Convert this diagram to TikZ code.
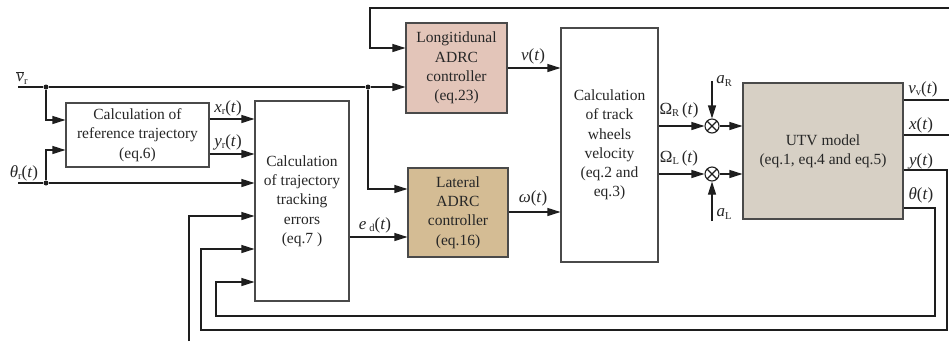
\documentclass[tikz,border=0pt]{standalone}
\usepackage{fontspec}
\setmainfont{Liberation Serif}
\usetikzlibrary{arrows.meta,calc}
\definecolor{linec}{HTML}{1E1E1E}
\definecolor{boxc}{HTML}{4A4A4A}
\definecolor{txtc}{HTML}{262626}
\definecolor{longc}{HTML}{E3C5B9}
\definecolor{latc}{HTML}{D4BC94}
\definecolor{utvc}{HTML}{D7D0C5}
\newcommand{\lsb}[1]{\raisebox{-0.35ex}{\fontsize{10.5}{10.5}\selectfont #1}}
\newcommand{\bfnt}{\fontsize{15.5}{19.3}\selectfont}
\newcommand{\lfnt}{\fontsize{17}{19}\selectfont}
\begin{document}
\begin{tikzpicture}[x=1pt,y=-1pt,
  box/.style={draw=boxc, line width=1.1pt, align=center, inner sep=0pt, font=\bfnt, text=txtc},
  ln/.style={line width=1.1pt, draw=linec},
  arr/.style={ln, -{Triangle[length=13pt,width=8pt]}},
  lbl/.style={inner sep=0pt, font=\lfnt, text=txtc},
  jdot/.style={circle, fill=linec, inner sep=0pt, minimum size=5pt},
  sumj/.style={circle, draw=linec, line width=1.1pt, fill=white, inner sep=0pt, minimum size=14pt,
    path picture={\draw[linec, line width=1.1pt] (path picture bounding box.south west) -- (path picture bounding box.north east)
      (path picture bounding box.north west) -- (path picture bounding box.south east);}}
]
\useasboundingbox[fill=white] (0,0) rectangle (949,341);

% blocks
\node[box, minimum width=143pt, minimum height=64pt] (ref) at (137.5,135) {Calculation of\\reference trajectory\\(eq.6)};
\node[box, minimum width=94pt, minimum height=200pt] (trk) at (302,201) {Calculation\\of trajectory\\tracking\\errors\\(eq.7 )};
\node[box, fill=longc, minimum width=101pt, minimum height=90pt] (lon) at (456.5,68) {Longitidunal\\ADRC\\controller\\(eq.23)};
\node[box, fill=latc, minimum width=100pt, minimum height=89pt] (lat) at (458,212.5) {Lateral\\ADRC\\controller\\(eq.16)};
\node[box, minimum width=97pt, minimum height=234pt] (vel) at (609.5,145) {Calculation\\of track\\wheels\\velocity\\(eq.2 and\\eq.3)};
\node[box, fill=utvc, minimum width=160pt, minimum height=136pt] (utv) at (823,151) {UTV model\\(eq.1, eq.4 and eq.5)};

% summing junctions
\node[sumj] (sR) at (712,126) {};
\node[sumj] (sL) at (712,174) {};

% junction dots
\node[jdot] (d1) at (46,87) {};
\node[jdot] (d2) at (46,183) {};
\node[jdot] (d3) at (368,87) {};

% free ends and corners
\coordinate (vin) at (18,87);
\coordinate (thin) at (18,183);
\coordinate (aR) at (712,81);
\coordinate (aL) at (712,221);
\coordinate (ovv) at (949,100);
\coordinate (ox) at (949,135);
\coordinate (topr) at (949,8);
\coordinate (topl) at (370,8);
\coordinate (yc1) at (947,330);
\coordinate (yc2) at (201,330);
\coordinate (tc1) at (935,316);
\coordinate (tc2) at (216,316);
\coordinate (xb) at (189,341);

% connectors
\draw[ln] (vin) -- (d1) -- (d3);
\draw[arr] (d3) -- (lon.west |- d3);
\draw[arr] (d1) |- (ref.west |- 0,120);
\draw[ln] (thin) -- (d2);
\draw[arr] (d2) |- (ref.west |- 0,150);
\draw[arr] (d2) -- (trk.west |- d2);
\draw[arr] (ref.east |- 0,119) -- (trk.west |- 0,119);
\draw[arr] (ref.east |- 0,154) -- (trk.west |- 0,154);
\draw[arr] (d3) |- (lat.west |- 0,189);
\draw[arr] (trk.east |- 0,237) -- (lat.west |- 0,237);
\draw[arr] (lon.east |- 0,68) -- (vel.west |- 0,68);
\draw[arr] (lat.east |- 0,212) -- (vel.west |- 0,212);
\draw[arr] (vel.east |- sR) -- (sR.west);
\draw[arr] (sR.east) -- (utv.west |- sR);
\draw[arr] (vel.east |- sL) -- (sL.west);
\draw[arr] (sL.east) -- (utv.west |- sL);
\draw[arr] (aR) -- (sR.north);
\draw[arr] (aL) -- (sL.south);
\draw[ln] (utv.east |- ovv) -- (ovv);
\draw[ln] (utv.east |- ox) -- (ox);
\draw[arr] (topr) -- (topl) |- (lon.west |- 0,48);
\draw[arr] (utv.east |- 0,170) -| (yc1) -- (yc2) |- (trk.west |- 0,249);
\draw[arr] (utv.east |- 0,208) -| (tc1) -- (tc2) |- (trk.west |- 0,282);
\draw[arr] (xb) |- (trk.west |- 0,216);

% labels
\node[lbl] (lvr) at (22,78) {$\overline{\mbox{\textit{v}}}$\lsb{r}};
\node[lbl] (lth) at (24,173) {\textit{θ}\lsb{r}(\textit{t})};
\node[lbl] (lxr) at (228,108) {\textit{x}\lsb{r}(\textit{t})};
\node[lbl] (lyr) at (228,142) {\textit{y}\lsb{r}(\textit{t})};
\node[lbl] (led) at (375,225) {\textit{e}\,\lsb{d}(\textit{t})};
\node[lbl] (lv) at (533,56) {\textit{v}(\textit{t})};
\node[lbl] (lw) at (533,198) {\textit{ω}(\textit{t})};
\node[lbl] (lOR) at (679,110) {Ω\lsb{R}\,(\textit{t})};
\node[lbl] (lOL) at (679,158) {Ω\lsb{L}\,(\textit{t})};
\node[lbl] (laR) at (724,81) {\textit{a}\lsb{R}};
\node[lbl] (laL) at (724,214) {\textit{a}\lsb{L}};
\node[lbl] (lvv) at (923,89) {\textit{v}\lsb{v}(\textit{t})};
\node[lbl] (lx) at (921,125) {\textit{x}(\textit{t})};
\node[lbl] (ly) at (921,161) {\textit{y}(\textit{t})};
\node[lbl] (lt) at (921,195) {\textit{θ}(\textit{t})};
\end{tikzpicture}
\end{document}
